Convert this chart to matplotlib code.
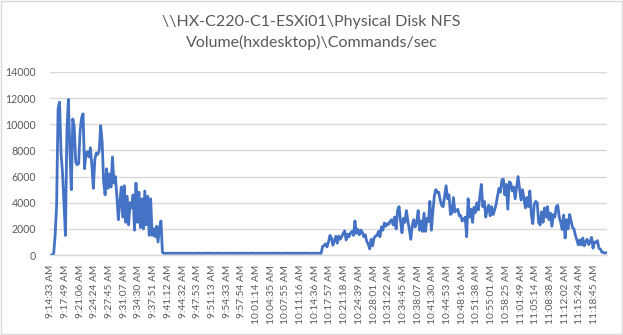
import matplotlib
matplotlib.use("Agg")
import matplotlib.pyplot as plt
from matplotlib.patches import Rectangle

# tick labels (every 10th sample)
time_labels = [
    "9:14:33 AM", "9:17:49 AM", "9:21:06 AM", "9:24:24 AM", "9:27:45 AM",
    "9:31:07 AM", "9:34:30 AM", "9:37:51 AM", "9:41:12 AM", "9:44:32 AM",
    "9:47:53 AM", "9:51:13 AM", "9:54:33 AM", "9:57:54 AM", "10:01:14 AM",
    "10:04:35 AM", "10:07:55 AM", "10:11:16 AM", "10:14:36 AM", "10:17:57 AM",
    "10:21:18 AM", "10:24:39 AM", "10:28:01 AM", "10:31:22 AM", "10:34:45 AM",
    "10:38:07 AM", "10:41:30 AM", "10:44:53 AM", "10:48:16 AM", "10:51:38 AM",
    "10:55:01 AM", "10:58:25 AM", "11:01:49 AM", "11:05:14 AM", "11:08:38 AM",
    "11:12:02 AM", "11:15:24 AM", "11:18:45 AM",
]

# commands/sec
burst_phase = [
    0, 0, 100, 1500, 3800, 11200, 11700, 7800, 6300, 4000,
    1500, 9500, 11900, 8100, 5000, 10400, 9800, 7100, 6900, 7000,
    9500, 10500, 10800, 6600, 7800, 7900, 7500, 8200, 6800, 5100,
    7300, 7800, 7700, 8000, 9900, 8600, 5600, 4600, 6600, 5100,
    6200, 5200, 7500, 5500, 6000, 4500, 2700, 4000, 5200, 2900,
    5300, 2500, 4500, 2300, 4000, 3600, 4600, 1900, 5500, 2500,
    4800, 2100, 4300, 2000, 4900, 2300, 4500, 1500, 4300, 1500,
    2000, 1400, 2200, 1000, 2100, 2600, 200, 130,
]
idle_phase = [
    130, 130, 140, 130, 130, 150, 130, 130, 140, 130,
    130, 150, 130, 130, 140, 130, 130, 150, 130, 130,
    140, 130, 130, 150, 130, 130, 140, 130, 130, 150,
    130, 130, 140, 130, 130, 150, 130, 130, 140, 130,
    130, 150, 130, 130, 140, 130, 130, 150, 130, 130,
    140, 130, 130, 150, 130, 130, 140, 130, 130, 150,
    130, 130, 140, 130, 130, 150, 130, 130, 140, 130,
    130, 150, 130, 130, 140, 130, 130, 150, 130, 130,
    140, 130, 130, 150, 130, 130, 140, 130, 130, 150,
    130, 130, 140, 130, 130, 150, 130, 130, 140, 130,
    130, 150, 130, 130, 140, 130, 130,
]
ramp_phase = [
    650, 730, 860, 620, 1000, 1500, 1300, 750, 1100, 1430,
    900, 1450, 1200, 1400, 1650, 1850, 1150, 1600, 1400, 1700,
    1800, 1500, 2600, 1650, 1950, 1550, 1900, 1750, 1400, 1550,
    1050, 850, 470, 1200, 700, 1300, 1450, 1500, 1800, 1400,
    2150, 1900, 2450, 2200, 2400, 2350, 2600, 2700, 2300, 2900,
    2000, 3400, 3700, 2600, 1700, 2800, 2500, 3400, 2600, 1950,
    1200, 2250, 2700, 2150, 2500, 3400, 1900, 2600, 1800, 3200,
    1800, 2800, 2550, 4100, 1900, 3300, 4500, 5000, 4800, 4800,
    4200, 3800, 3700, 4500, 5300, 4300, 4600, 3100, 3200, 4400,
    3300, 3400, 3500, 3000, 3000, 2600, 2700, 2900, 1400, 4300,
    2900, 3500, 2500, 3650, 3250, 4000, 3450, 4500, 5400, 3700,
    4100, 2900, 3500, 3800, 3000, 3700, 3100, 3440, 3850, 4500,
    5100, 4800, 5750, 5800, 4600, 5400, 3500, 5600, 5500, 4900,
    5200, 4300, 5200, 6000, 5100, 4200, 5000, 4300, 3600, 4400,
    3700, 4900, 3100, 2400, 3900, 4100, 4000, 2500, 2300, 3300,
    2500, 3600, 2900, 3700, 2700, 3200, 2200, 3100, 2900, 3700,
    3800, 2900, 2500, 1950, 3050, 1300, 2700, 2000, 3100, 2650,
    2100, 2000, 1500, 1150, 770, 1150, 770, 1300, 700, 1000,
    1200, 800, 1000, 1350, 520, 1000, 950, 1100, 510, 450,
    220, 200, 150, 170,
]
values = burst_phase + idle_phase + ramp_phase

text_color = "#595959"
grid_color = "#d9d9d9"
line_color = "#4472c4"
font = "Lato"

fig = plt.figure(figsize=(6.23, 3.35), dpi=100)
ax = fig.add_axes([50 / 623, 1 - 255 / 335, 557 / 623, 183 / 335])

ax.plot(range(len(values)), values, color=line_color, linewidth=2.0,
        solid_joinstyle="round")

ax.set_ylim(0, 14000)
ax.set_xlim(-0.5, len(values) - 0.5)
ax.set_yticks(range(0, 14001, 2000))
ax.set_xticks(range(0, 10 * len(time_labels), 10))
ax.set_xticklabels(time_labels, rotation=90, fontsize=7.3, color=text_color,
                   family=font)
for lbl in ax.get_yticklabels():
    lbl.set_family(font)
ax.tick_params(axis="y", length=0, labelsize=7.6, labelcolor=text_color, pad=10)
ax.tick_params(axis="x", length=0, pad=7)
ax.grid(axis="y", color=grid_color, linewidth=1.0)
ax.set_axisbelow(True)
for side in ["top", "right", "left"]:
    ax.spines[side].set_visible(False)
ax.spines["bottom"].set_color(grid_color)
ax.spines["bottom"].set_linewidth(1.0)

fig.text(0.5, 1 - 22 / 335, "\\\\HX-C220-C1-ESXi01\\Physical Disk NFS",
         ha="center", va="center", fontsize=11.5, color=text_color, family=font)
fig.text(0.5, 1 - 42 / 335, "Volume(hxdesktop)\\Commands/sec",
         ha="center", va="center", fontsize=11.5, color=text_color, family=font)

# thin chart border
fig.patches.append(Rectangle((0.001, 0.002), 0.997, 0.995, transform=fig.transFigure,
                             fill=False, edgecolor=grid_color, linewidth=1.0))

fig.savefig("out.png", dpi=100)
